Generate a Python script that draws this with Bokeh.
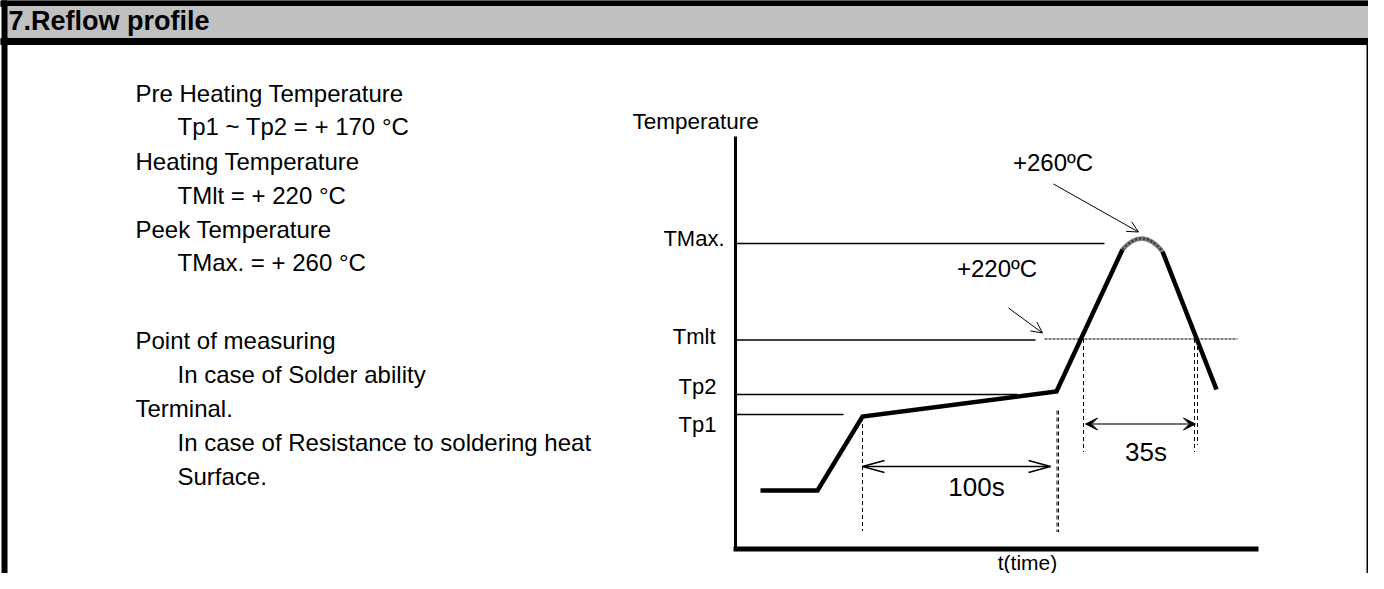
from bokeh.plotting import figure
from bokeh.models import Range1d, Arrow, OpenHead, VeeHead
from bokeh.core.properties import value
from bokeh.embed import file_html
from bokeh.resources import INLINE

FONT = value("Liberation Sans")

# ---------------- data (schematic units: time right of axis, temperature above axis) -------------
profile_time = [25, 82, 127, 321, 387]
profile_temp = [58.5, 58.5, 132.5, 157.5, 299.5]
peak_time = [387, 407, 427]          # start, control, end of the peak dome
peak_temp = [299.5, 322.5, 297.5]
cool_time = [427, 481]
cool_temp = [297.5, 159.5]

level_names = ["TMax.", "Tmlt", "Tp2", "Tp1"]
level_temp = [305.5, 209.0, 154.5, 134.5]
level_line_end = [369, 300, 282, 108]
level_label_mid = [310.5, 213, 162.5, 125]
level_label_right = [-11, -20, -19, -19]

tmlt_dotted_time = [309, 502]
tmlt_dotted_temp = 210

guide_time = [127, 321.5, 348, 459, 462]
guide_top = [132, 138.5, 210, 210, 210]
guide_bottom = [18, 17, 97, 97, 104]

interval_labels = ["100s", "35s"]
interval_start = [127, 350]
interval_end = [315, 460]
interval_temp = [82.5, 125]
interval_label_x = [241, 410.5]
interval_label_mid = [62, 96.8]

peak_labels = ["+260ºC", "+220ºC"]
peak_label_x = [317.5, 261.5]
peak_label_mid = [386.5, 280.5]
pointer_from = [(318, 365), (273, 241)]
pointer_to = [(403, 317), (307, 216)]

left_texts = [
    "Pre Heating Temperature", "Tp1 ~ Tp2 = + 170 °C",
    "Heating Temperature", "TMlt = + 220 °C",
    "Peek Temperature", "TMax. = + 260 °C",
    "Point of measuring", "In case of Solder ability",
    "Terminal.", "In case of Resistance to soldering heat", "Surface.",
]
left_indent = [0, 1, 0, 1, 0, 1, 0, 1, 0, 1, 1]
left_mid_px = [92.7, 126, 161, 195, 229, 262, 340, 374, 408, 442, 476]

# ---------------- figure --------------------------------------------------------------------------
W, H = 1368, 573
OX, OY = 735.0, 548.5   # axis corner in picture pixels


def px(x):
    return x - OX


def py(y):
    return OY - y


p = figure(width=W, height=H, x_range=Range1d(px(0), px(W)),
           y_range=Range1d(py(H), py(0)), output_backend="svg",
           toolbar_location=None, x_axis_type=None, y_axis_type=None,
           min_border=0, outline_line_color=None, background_fill_color="white",
           border_fill_color="white")
p.grid.visible = False

# frame & header
p.quad(left=[px(0)], right=[px(W)], top=[py(0)], bottom=[py(6)], color="black")
p.quad(left=[px(6)], right=[px(W)], top=[py(6)], bottom=[py(38)], color="#c0c0c0")
p.quad(left=[px(0)], right=[px(W)], top=[py(38)], bottom=[py(44)], color="black")
p.quad(left=[px(1.5)], right=[px(6.5)], top=[py(0)], bottom=[py(H)], color="black")
p.quad(left=[px(W - 1.5)], right=[px(W)], top=[py(44)], bottom=[py(H)], color="black")
p.text(x=[px(8)], y=[py(20.5)], text=["7.Reflow profile"], text_font=FONT,
       text_font_size=value("27px"), text_font_style="bold", text_color="black",
       text_baseline="middle", text_align="left")

# left description block
lx = [px(135) if i == 0 else px(177) for i in left_indent]
p.text(x=lx, y=[py(v) for v in left_mid_px], text=left_texts, text_font=FONT,
       text_font_size=value("24px"), text_color="black", text_baseline="middle",
       text_align="left")

# axes
p.line(x=[0, 0], y=[py(136), py(550)], line_color="black", line_width=3)
p.line(x=[-2, px(1258)], y=[0, 0], line_color="black", line_width=5)
p.text(x=[px(632)], y=[py(121)], text=["Temperature"], text_font=FONT,
       text_font_size=value("22.5px"), text_baseline="middle", text_align="left")
p.text(x=[px(1027)], y=[py(561.5)], text=["t(time)"], text_font=FONT,
       text_font_size=value("21px"), text_baseline="middle", text_align="center")

# temperature levels
p.multi_line(xs=[[0, e] for e in level_line_end], ys=[[t, t] for t in level_temp],
             line_color="black", line_width=1.5)
p.text(x=level_label_right, y=level_label_mid, text=level_names, text_font=FONT,
       text_font_size=value("22px"), text_baseline="middle", text_align="right")
p.line(x=tmlt_dotted_time, y=[tmlt_dotted_temp] * 2, line_color="black",
       line_width=1.2, line_dash="3 1")

# dashed guides
p.multi_line(xs=[[t, t] for t in guide_time],
             ys=[[a, b] for a, b in zip(guide_top, guide_bottom)],
             line_color="black", line_width=1, line_dash="4 3")
p.line(x=[guide_time[1] + 1.5] * 2, y=[guide_top[1], guide_bottom[1]], line_color="black",
       line_width=1, line_dash="4 3")

# profile
p.line(x=profile_time, y=profile_temp, line_color="black", line_width=4.5, line_join="miter")
p.line(x=cool_time, y=cool_temp, line_color="black", line_width=4.5)
p.quadratic(x0=[peak_time[0]], y0=[peak_temp[0]], cx=[peak_time[1]], cy=[peak_temp[1]],
            x1=[peak_time[2]], y1=[peak_temp[2]], line_color="#7a7a7a", line_width=4.5)
p.quadratic(x0=[peak_time[0]], y0=[peak_temp[0]], cx=[peak_time[1]], cy=[peak_temp[1]],
            x1=[peak_time[2]], y1=[peak_temp[2]], line_color="#333333", line_width=2,
            line_dash="2 2")

# 100s interval: long open heads drawn as segments
s, e, t = interval_start[0], interval_end[0], interval_temp[0]
p.line(x=[s, e], y=[t, t], line_color="black", line_width=1.5)
HL, HW = 22, 6
p.multi_line(xs=[[s + HL, s, s + HL], [e - HL, e, e - HL]],
             ys=[[t + HW, t, t - HW], [t + HW, t, t - HW]], line_color="black", line_width=1.5)

# 35s interval: vee heads
p.add_layout(Arrow(x_start=interval_start[1], y_start=interval_temp[1],
                   x_end=interval_end[1], y_end=interval_temp[1],
                   line_color="#444444", line_width=1.5,
                   start=VeeHead(size=12, fill_color="black", line_color="black", line_width=1),
                   end=VeeHead(size=12, fill_color="black", line_color="black", line_width=1)))

p.text(x=interval_label_x, y=interval_label_mid, text=interval_labels,
       text_font=FONT, text_font_size=value("26px"), text_baseline="middle",
       text_align="center")

# peak annotations
for (x0, y0), (x1, y1) in zip(pointer_from, pointer_to):
    p.add_layout(Arrow(x_start=x0, y_start=y0, x_end=x1, y_end=y1, line_color="black",
                       line_width=1, end=OpenHead(size=11, line_color="black", line_width=1)))
p.text(x=peak_label_x, y=peak_label_mid, text=peak_labels, text_font=FONT,
       text_font_size=value("24px"), text_baseline="middle", text_align="center")

open("out.html", "w").write(file_html(p, INLINE))
